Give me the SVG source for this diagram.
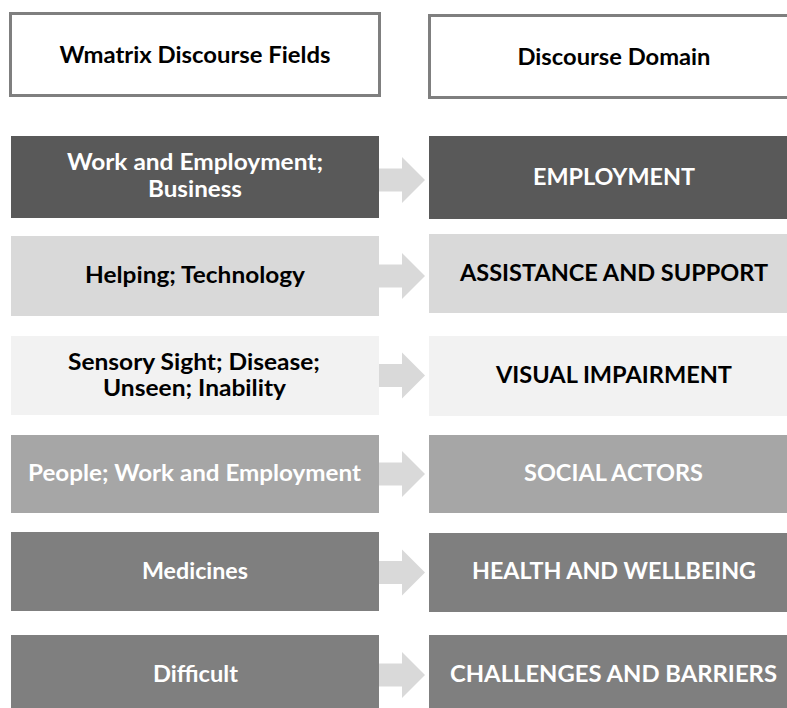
<svg xmlns="http://www.w3.org/2000/svg" width="787" height="708" viewBox="0 0 787 708">
  <style>
    text { font-family: Lato, "Open Sans", "Liberation Sans", sans-serif; font-weight: bold; font-size: 23px; text-anchor: middle; }
    .hdr { fill: #ffffff; stroke: #7f7f7f; stroke-width: 3; }
    .dk { fill: #ffffff; }
    .lt { fill: #000000; }
    .arrow { fill: #d9d9d9; }
  </style>
  <defs>
    <!-- block arrow, centred on y=0, starting at x=0 -->
    <polygon id="blockArrow" points="0,-11.5 23,-11.5 23,-23 46,0 23,23 23,11.5 0,11.5"/>
  </defs>

  <rect width="787" height="708" fill="#ffffff"/>

  <!-- connectors (drawn behind the boxes) -->
  <g id="connectors" class="arrow">
    <use href="#blockArrow" x="379" y="180"/>
    <use href="#blockArrow" x="379" y="276"/>
    <use href="#blockArrow" x="379" y="375.5"/>
    <use href="#blockArrow" x="379" y="474"/>
    <use href="#blockArrow" x="379" y="572.5"/>
    <use href="#blockArrow" x="379" y="675"/>
  </g>

  <!-- column headers -->
  <g id="header-fields">
    <rect class="hdr" x="10.5" y="13.5" width="369" height="82"/>
    <text class="lt" x="195" y="63" textLength="271" lengthAdjust="spacingAndGlyphs">Wmatrix Discourse Fields</text>
  </g>
  <g id="header-domain">
    <rect class="hdr" x="429.5" y="15.5" width="370" height="82"/>
    <text class="lt" x="614" y="65" textLength="193" lengthAdjust="spacingAndGlyphs">Discourse Domain</text>
  </g>

  <!-- row 1 -->
  <g id="field-work-business">
    <rect x="11" y="136" width="368" height="82" fill="#595959"/>
    <text class="dk" x="195" y="170" textLength="256" lengthAdjust="spacingAndGlyphs">Work and Employment;</text>
    <text class="dk" x="195" y="197" textLength="94" lengthAdjust="spacingAndGlyphs">Business</text>
  </g>
  <g id="domain-employment">
    <rect x="429" y="136" width="370" height="83" fill="#595959"/>
    <text class="dk" x="614" y="185" textLength="162" lengthAdjust="spacingAndGlyphs">EMPLOYMENT</text>
  </g>

  <!-- row 2 -->
  <g id="field-helping">
    <rect x="11" y="236" width="368" height="80" fill="#d9d9d9"/>
    <text class="lt" x="195" y="283" textLength="220" lengthAdjust="spacingAndGlyphs">Helping; Technology</text>
  </g>
  <g id="domain-assistance">
    <rect x="429" y="234" width="370" height="79" fill="#d9d9d9"/>
    <text class="lt" x="614" y="281" textLength="308" lengthAdjust="spacingAndGlyphs">ASSISTANCE AND SUPPORT</text>
  </g>

  <!-- row 3 -->
  <g id="field-sensory">
    <rect x="11" y="336" width="368" height="79" fill="#f2f2f2"/>
    <text class="lt" x="194" y="370" textLength="252" lengthAdjust="spacingAndGlyphs">Sensory Sight; Disease;</text>
    <text class="lt" x="194.5" y="396" textLength="183" lengthAdjust="spacingAndGlyphs">Unseen; Inability</text>
  </g>
  <g id="domain-visual">
    <rect x="429" y="336" width="370" height="80" fill="#f2f2f2"/>
    <text class="lt" x="614" y="383" textLength="236" lengthAdjust="spacingAndGlyphs">VISUAL IMPAIRMENT</text>
  </g>

  <!-- row 4 -->
  <g id="field-people">
    <rect x="11" y="435" width="368" height="78" fill="#a6a6a6"/>
    <text class="dk" x="194.5" y="481" textLength="333" lengthAdjust="spacingAndGlyphs">People; Work and Employment</text>
  </g>
  <g id="domain-social">
    <rect x="429" y="435" width="370" height="78" fill="#a6a6a6"/>
    <text class="dk" x="613.5" y="481" textLength="179" lengthAdjust="spacingAndGlyphs">SOCIAL ACTORS</text>
  </g>

  <!-- row 5 -->
  <g id="field-medicines">
    <rect x="11" y="532" width="368" height="79" fill="#7f7f7f"/>
    <text class="dk" x="195" y="579" textLength="106" lengthAdjust="spacingAndGlyphs">Medicines</text>
  </g>
  <g id="domain-health">
    <rect x="429" y="533" width="370" height="79" fill="#7f7f7f"/>
    <text class="dk" x="614" y="579" textLength="284" lengthAdjust="spacingAndGlyphs">HEALTH AND WELLBEING</text>
  </g>

  <!-- row 6 -->
  <g id="field-difficult">
    <rect x="11" y="635" width="368" height="80" fill="#7f7f7f"/>
    <text class="dk" x="195.5" y="682" textLength="85" lengthAdjust="spacingAndGlyphs">Difficult</text>
  </g>
  <g id="domain-challenges">
    <rect x="429" y="635" width="370" height="80" fill="#7f7f7f"/>
    <text class="dk" x="613.5" y="682" textLength="327" lengthAdjust="spacingAndGlyphs">CHALLENGES AND BARRIERS</text>
  </g>
</svg>
